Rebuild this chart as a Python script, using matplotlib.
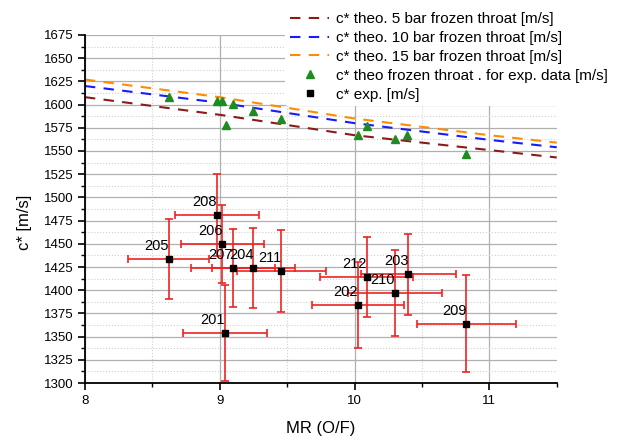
import numpy as np
import matplotlib.pyplot as plt
from matplotlib.ticker import MultipleLocator
from matplotlib.lines import Line2D

plt.rcParams['font.family'] = ['Liberation Sans', 'DejaVu Sans']

# theoretical c* curves (frozen throat)
mr_theo = [8.0, 9.0, 10.0, 11.0, 11.5]
c5 = [1608, 1589, 1567, 1551, 1543]
c10 = [1620, 1602, 1580, 1562, 1554]
c15 = [1627, 1608, 1585, 1567, 1559]

# theoretical c* at experimental MR
mr_tri = [8.62, 8.98, 9.02, 9.05, 9.10, 9.25, 9.455, 10.025, 10.09, 10.30, 10.39, 10.83]
c_tri = [1608, 1604, 1604, 1578, 1601, 1593, 1585, 1567, 1577, 1562.5, 1567, 1547]

# experimental points
test_id = ['201', '202', '203', '204', '205', '206', '207', '208', '209', '210', '211', '212']
mr_exp = [9.04, 10.025, 10.40, 9.25, 8.62, 9.02, 9.10, 8.98, 10.83, 10.30, 9.455, 10.09]
c_exp = [1354, 1384, 1417, 1424, 1434, 1450, 1423.5, 1481, 1364, 1397, 1421, 1414.5]
mr_err = [0.31, 0.34, 0.35, 0.31, 0.30, 0.31, 0.31, 0.31, 0.37, 0.35, 0.33, 0.345]
c_err = [52, 46, 43.5, 43, 43, 42, 42, 44, 52.5, 46.5, 44, 43]

fig = plt.figure(figsize=(6.2, 4.4), dpi=100)
ax = fig.add_axes([0.137, 0.1295, 0.761, 0.791])

ax.plot(mr_theo, c5, color='#8b1a1a', ls=(0, (5, 4)), lw=1.5, label='c* theo. 5 bar frozen throat [m/s]')
ax.plot(mr_theo, c10, color='#1a1aff', ls=(0, (5, 4)), lw=1.5, label='c* theo. 10 bar frozen throat [m/s]')
ax.plot(mr_theo, c15, color='#ff8c00', ls=(0, (5, 4)), lw=1.5, label='c* theo. 15 bar frozen throat [m/s]')
ax.plot(mr_tri, c_tri, ls='none', marker='^', ms=6, color='#1e8c1e',
        label='c* theo frozen throat . for exp. data [m/s]')
ax.errorbar(mr_exp, c_exp, xerr=mr_err, yerr=c_err, fmt='s', ms=5, color='black',
            ecolor='#ee2222', elinewidth=1.2, capsize=3, capthick=1.2, zorder=3)

for t, x, y in zip(test_id, mr_exp, c_exp):
    ax.annotate(t, (x, y), xytext=(0, 6), textcoords='offset pixels',
                ha='right', va='bottom', fontsize=10.5)

ax.set_xlim(8, 11.5)
ax.set_ylim(1300, 1675)
ax.xaxis.set_major_locator(MultipleLocator(1))
ax.xaxis.set_minor_locator(MultipleLocator(0.5))
ax.yaxis.set_major_locator(MultipleLocator(25))
ax.yaxis.set_minor_locator(MultipleLocator(12.5))
ax.grid(which='major', color='#b0b0b0', lw=0.9)
ax.grid(which='minor', color='#d0d0d0', ls=':', lw=0.8)
ax.set_axisbelow(True)
for s in ['top', 'right']:
    ax.spines[s].set_visible(False)
ax.spines['left'].set_linewidth(1.3)
ax.spines['bottom'].set_linewidth(1.3)
ax.tick_params(which='major', direction='out', length=5, width=1.2, labelsize=9.5)
ax.tick_params(which='minor', direction='out', length=3, width=1.0)

ax.set_xlabel('MR (O/F)', fontsize=12, labelpad=10)
ax.set_ylabel('c* [m/s]', fontsize=12)
ax.yaxis.set_label_coords(-0.112, 0.463)

handles, labels = ax.get_legend_handles_labels()
handles.append(Line2D([], [], ls='none', marker='s', ms=5, color='black'))
labels.append('c* exp. [m/s]')
leg = fig.legend(handles, labels, loc='upper left', bbox_to_anchor=(0.455, 0.99),
                 fontsize=11, frameon=True, handlelength=2.6, handletextpad=0.4,
                 labelspacing=0.32, borderpad=0.3, borderaxespad=0.2)
leg.get_frame().set_edgecolor('none')
leg.get_frame().set_facecolor('white')
leg.get_frame().set_alpha(1)

fig.savefig('out.png', dpi=100)
